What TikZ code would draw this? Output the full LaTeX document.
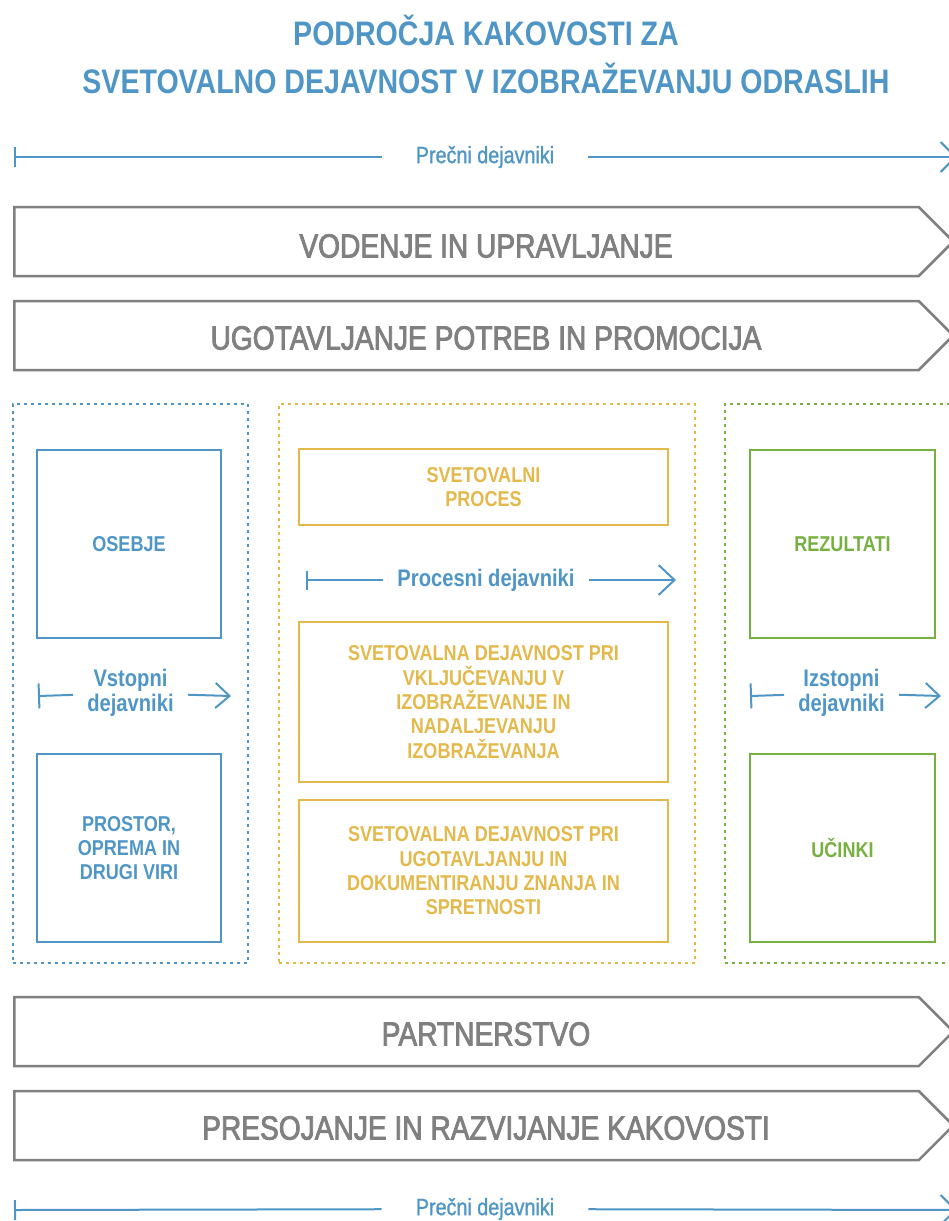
\documentclass[tikz,border=0pt]{standalone}
\usepackage{fontspec}
\setmainfont[FakeStretch=0.84]{Liberation Sans}
\newfontfamily\medfont[FakeStretch=0.84, FakeBold=1.2]{Liberation Sans}
\newfontfamily\bandfont[FakeStretch=0.84, FakeBold=2.4]{Liberation Sans}
\usepackage{xcolor}
\usepackage{tikz}
\usetikzlibrary{positioning,arrows.meta,shapes.symbols}

\definecolor{qblue}{HTML}{4F96C6}
\definecolor{qyellow}{HTML}{E3B94C}
\definecolor{qgreen}{HTML}{76B041}
\definecolor{qgray}{HTML}{808080}

\begin{document}
\begin{tikzpicture}[
  x=1pt, y=-1pt,
  band/.style={draw=qgray, line width=2.5pt, signal, signal to=east, signal pointer angle=90,
    minimum width=939pt, minimum height=69pt, inner sep=0pt},
  bandtext/.style={text=qgray, inner sep=0pt, font=\bandfont\fontsize{33.5}{38}\selectfont},
  frame/.style={draw, line width=2.6pt, dash pattern=on 2.6pt off 4.4pt, inner sep=0pt, minimum height=559pt},
  box/.style={draw, line width=2.5pt, inner sep=0pt, align=center, font=\bfseries\fontsize{21.5}{24.3}\selectfont},
  flowlabel/.style={text=qblue, inner xsep=14pt, align=center, font=\bfseries\fontsize{24}{25}\selectfont},
  crosslabel/.style={text=qblue, inner xsep=34pt, font=\medfont\fontsize{23.5}{26}\selectfont},
  flow/.style={draw=qblue, line width=2pt}
]
\useasboundingbox (0,0) rectangle (949,1221);

% Title
\node[text=qblue, align=center, font=\bfseries\fontsize{34}{48}\selectfont] (title) at (486,54)
  {PODROČJA KAKOVOSTI ZA\\SVETOVALNO DEJAVNOST V IZOBRAŽEVANJU ODRASLIH};

% Cross-cutting factors (top)
\coordinate (ptl) at (14,157);
\coordinate (ptr) at (957,157);
\node[crosslabel] (pt) at (485,157) {Prečni dejavniki};
\draw[flow, {Bar[width=20pt]}-] (ptl) -- (pt);
\draw[flow, -{Straight Barb[length=15pt, width=30pt]}] (pt) -- (ptr);

% Bands
\node[band, anchor=west] (vodenje) at (13,241.5) {};
\node[bandtext] (vodenjetext) at (486,246) {VODENJE IN UPRAVLJANJE};
\node[band, anchor=west] (potrebe) at (13,335.5) {};
\node[bandtext] (potrebetext) at (486,338) {UGOTAVLJANJE POTREB IN PROMOCIJA};

% Input factors
\node[frame, draw=qblue, minimum width=235pt] (vstop) at (130.5,683.5) {};
\node[box, draw=qblue, text=qblue, minimum width=184pt, minimum height=188pt] (osebje) at (129,544) {OSEBJE};
\node[box, draw=qblue, text=qblue, minimum width=184pt, minimum height=188pt] (prostor) at (129,848)
  {PROSTOR,\\OPREMA IN\\DRUGI VIRI};
\coordinate (vl) at (38,696);
\coordinate (vr) at (231,696);
\node[flowlabel] (vd) at (130.5,693) {Vstopni\\dejavniki};
\draw[flow, {Bar[width=25pt]}-] (vl) -- (vd);
\draw[flow, -{Straight Barb[length=14pt, width=25pt]}] (vd) -- (vr);

% Process factors
\node[frame, draw=qyellow, minimum width=416pt] (proc) at (487,683.5) {};
\node[box, draw=qyellow, text=qyellow, minimum width=369pt, minimum height=76pt] (proces) at (483.5,487)
  {SVETOVALNI\\PROCES};
\node[box, draw=qyellow, text=qyellow, minimum width=369pt, minimum height=160pt] (vklj) at (483.5,702)
  {SVETOVALNA DEJAVNOST PRI\\VKLJUČEVANJU V\\IZOBRAŽEVANJE IN\\NADALJEVANJU\\IZOBRAŽEVANJA};
\node[box, draw=qyellow, text=qyellow, minimum width=369pt, minimum height=142pt] (ugot) at (483.5,871)
  {SVETOVALNA DEJAVNOST PRI\\UGOTAVLJANJU IN\\DOKUMENTIRANJU ZNANJA IN\\SPRETNOSTI};
\coordinate (pl) at (306,580);
\coordinate (pr) at (676,580);
\node[flowlabel] (pd) at (486,580) {Procesni dejavniki};
\draw[flow, {Bar[width=19pt]}-] (pl) -- (pd);
\draw[flow, -{Straight Barb[length=16pt, width=30pt]}] (pd) -- (pr);

% Output factors
\node[frame, draw=qgreen, minimum width=232pt] (izstop) at (841,683.5) {};
\node[box, draw=qgreen, text=qgreen, minimum width=185pt, minimum height=188pt] (rezultati) at (842.5,544) {REZULTATI};
\node[box, draw=qgreen, text=qgreen, minimum width=185pt, minimum height=188pt] (ucinki) at (842.5,848) {UČINKI};
\coordinate (il) at (750,696);
\coordinate (ir) at (941,696);
\node[flowlabel] (id) at (841.5,693) {Izstopni\\dejavniki};
\draw[flow, {Bar[width=25pt]}-] (il) -- (id);
\draw[flow, -{Straight Barb[length=14pt, width=25pt]}] (id) -- (ir);

% Bands
\node[band, anchor=west] (partner) at (13,1031.5) {};
\node[bandtext] (partnertext) at (486,1034) {PARTNERSTVO};
\node[band, anchor=west] (presoja) at (13,1125.5) {};
\node[bandtext] (presojatext) at (486,1128) {PRESOJANJE IN RAZVIJANJE KAKOVOSTI};

% Cross-cutting factors (bottom)
\coordinate (pbl) at (14,1210);
\coordinate (pbr) at (957,1210);
\node[crosslabel] (pb) at (485,1209) {Prečni dejavniki};
\draw[flow, {Bar[width=20pt]}-] (pbl) -- (pb);
\draw[flow, -{Straight Barb[length=15pt, width=30pt]}] (pb) -- (pbr);

\end{tikzpicture}
\end{document}
